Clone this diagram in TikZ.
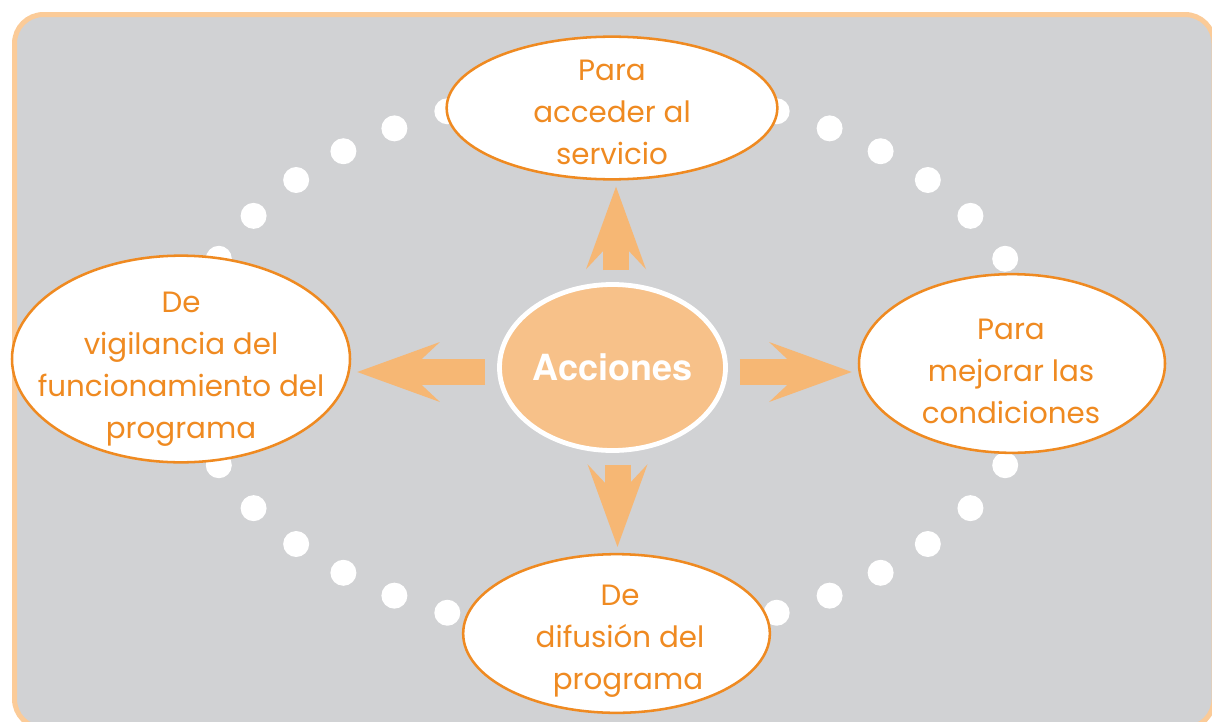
\documentclass[tikz,border=0pt]{standalone}
\usepackage{fontspec}
\newfontfamily\handfont{Poppins}
\newfontfamily\headfont{TeX Gyre Heros}
\usetikzlibrary{shapes.geometric,arrows.meta,calc}

\definecolor{panelgray}{HTML}{D1D2D4}
\definecolor{framepeach}{HTML}{FBCB98}
\definecolor{inkorange}{HTML}{EF8A21}
\definecolor{arrowpeach}{HTML}{F6B774}
\definecolor{hubpeach}{HTML}{F7C189}

\tikzset{every picture/.style={line width=0.75pt}}
\tikzset{
  bubble/.style={ellipse, draw=inkorange, fill=white, line width=1.9pt, inner sep=0pt},
  bubbletext/.style={text=inkorange, font=\handfont\fontsize{22}{31.5}\selectfont, align=center, inner sep=0pt},
  hub/.style={ellipse, draw=white, fill=hubpeach, line width=3.6pt, inner sep=0pt, text=white, font=\headfont\bfseries\fontsize{27}{30}\selectfont},
  bigarrow/.style={draw=arrowpeach, line width=19.5pt, shorten <=9pt, shorten >=4.5pt,
    -{Stealth[length=62pt, width=45pt, inset=24pt, line width=0pt]}},
  dotfill/.style={fill=white}
}

\begin{document}
\begin{tikzpicture}[x=0.75pt,y=0.75pt,yscale=-1,xscale=1]
\useasboundingbox (0,0) rectangle (1212,721);

%Rounded Rect
\draw [draw=framepeach, fill=panelgray, line width=3.75pt, rounded corners=21.75pt] (14.5,14.5) rectangle (1214,728) ;

%Dots
\foreach \t in {22.3,32.5,42,50.8,59.2,67.2}{
  \fill [dotfill] ({612+425*cos(\t)},{362-272*sin(\t)}) circle (13) ;
  \fill [dotfill] ({612-425*cos(\t)},{362-272*sin(\t)}) circle (13) ;
  \fill [dotfill] ({612+425*cos(\t)},{362+272*sin(\t)}) circle (13) ;
  \fill [dotfill] ({612-425*cos(\t)},{362+272*sin(\t)}) circle (13) ;
}

%Shape: Ellipse
\node [bubble, minimum width=248pt, minimum height=107pt] (srv) at (612,108) {};
%Shape: Ellipse
\node [bubble, minimum width=253.5pt, minimum height=155pt] (vig) at (181,359) {};
%Shape: Ellipse
\node [bubble, minimum width=229.5pt, minimum height=134pt] (mej) at (1012,363.5) {};
%Shape: Ellipse
\node [bubble, minimum width=230pt, minimum height=119pt] (dif) at (616.5,633.5) {};
%Shape: Ellipse
\node [hub, minimum width=169.5pt, minimum height=124.5pt] (acc) at (612.5,367.5) {Acciones};

% Text Node
\node [bubbletext] (srvtxt) at (612,112) {Para\\acceder al\\servicio};
% Text Node
\node [bubbletext] (vigtxt) at (181,369) {De\\vigilancia del\\funcionamiento del\\programa};
% Text Node
\node [bubbletext] (mejtxt) at (1011,371) {Para\\mejorar las\\condiciones};
% Text Node
\node [bubbletext] (diftxt) at (620,641) {De\\difusión del\\\hspace*{12pt}programa};

%Straight Lines
\coordinate (lft) at ($(acc.west)+(0,4.5)$);
\coordinate (rgt) at ($(acc.east)+(0,4.5)$);
\coordinate (upp) at ($(acc.north)+(3.5,0)$);
\coordinate (dwn) at ($(acc.south)+(5,0)$);
\draw [bigarrow] (lft) -- (lft -| vig.east) ;
\draw [bigarrow] (rgt) -- (rgt -| mej.west) ;
\draw [bigarrow] (upp) -- (upp |- srv.south) ;
\draw [bigarrow] (dwn) -- (dwn |- dif.north) ;

\end{tikzpicture}
\end{document}
